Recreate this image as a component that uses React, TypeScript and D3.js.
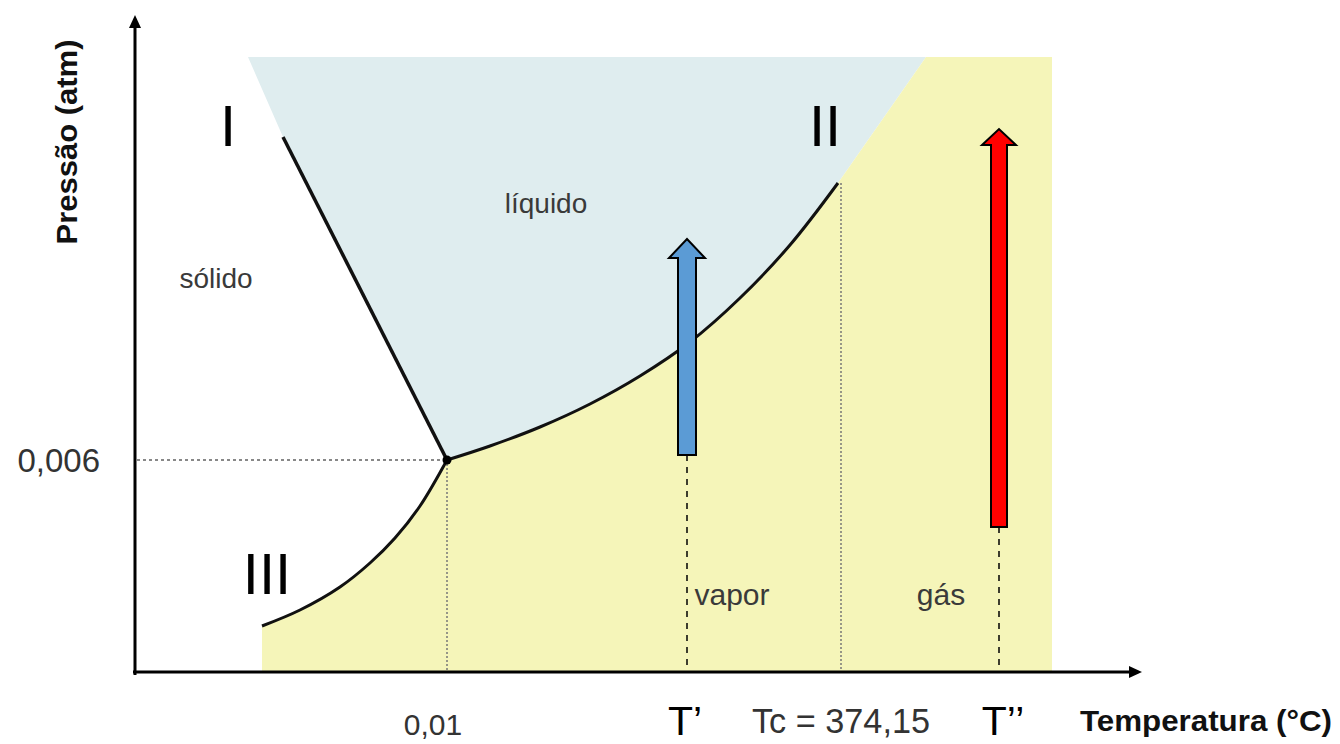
import React from "react";
import * as d3 from "d3";

const W = 1340;
const H = 744;

// Schematic data units (temperature-like on x, pressure-like on y)
const sublimationCurve: [number, number][] = [
  [127, 46], [165, 62], [205, 85], [235, 109], [260, 134], [285, 166], [312, 212],
];
const vaporizationCurve: [number, number][] = [
  [312, 212], [355, 226], [405, 245], [455, 268], [505, 296], [555, 330], [605, 374], [655, 427], [703, 489],
];
const fusionLine: [number, number][] = [[148, 535], [312, 212]];
const liquidTopEdge: [number, number][] = [[113, 615], [791, 615]];
const gasRegionX: [number, number] = [127, 917];
const gasRegionTop = 615;
const triplePoint: [number, number] = [312, 212];
const criticalPoint: [number, number] = [703, 489];
const tcLineX = 706;

const arrowsData = [
  { x: 552, y0: 217, y1: 433, fill: "#5b9bd5", hw: 9, HW: 18, hh: 19 },
  { x: 864, y0: 145, y1: 543, fill: "#ff0000", hw: 8, HW: 17, hh: 16 },
];

const phaseLabels = [
  { text: "líquido", x: 411, y: 459 },
  { text: "sólido", x: 81, y: 384 },
  { text: "vapor", x: 597, y: 67 },
  { text: "gás", x: 806, y: 67 },
];
const romanLabels = [
  { text: "I", x: 93, y: 526 },
  { text: "II", x: 690, y: 526 },
  { text: "III", x: 132, y: 78 },
];
const xTickLabels = [
  { text: "0,01", x: 312 },
  { text: "T’", x: 550 },
  { text: "Tc = 374,15", x: 706 },
  { text: "T’’", x: 868 },
];
const yTickLabels = [{ text: "0,006", y: 212 }];

const xScale = d3.scaleLinear().domain([0, 1000]).range([135, 1135]);
const yScale = d3.scaleLinear().domain([0, 660]).range([672, 12]);

const xTickStyle: Record<string, any> = {
  "0,01": { size: 30, base: 735, dx: -14 },
  "T’": { size: 41, base: 735, dx: 0 },
  "Tc = 374,15": { size: 35, base: 733, len: 178, dx: 0 },
  "T’’": { size: 41, base: 735, dx: 0 },
};

export default function App() {
  const x = xScale;
  const y = yScale;
  const line = d3
    .line<[number, number]>()
    .x((d) => x(d[0]))
    .y((d) => y(d[1]))
    .curve(d3.curveCatmullRom.alpha(0.5));
  const straight = d3
    .line<[number, number]>()
    .x((d) => x(d[0]))
    .y((d) => y(d[1]));

  const vapRev = [...vaporizationCurve].reverse();
  const liquidPath =
    `M${x(liquidTopEdge[0][0])},${y(liquidTopEdge[0][1])}` +
    `L${x(liquidTopEdge[1][0])},${y(liquidTopEdge[1][1])}` +
    `L${x(criticalPoint[0])},${y(criticalPoint[1])}` +
    (line(vapRev) || "").replace(/^M/, "L") +
    `L${x(fusionLine[0][0])},${y(fusionLine[0][1])}Z`;

  const gasPath =
    `M${x(liquidTopEdge[1][0])},${y(gasRegionTop)}` +
    `L${x(gasRegionX[1])},${y(gasRegionTop)}` +
    `L${x(gasRegionX[1])},${y(0)}` +
    `L${x(gasRegionX[0])},${y(0)}` +
    `L${x(sublimationCurve[0][0])},${y(sublimationCurve[0][1])}` +
    (line(sublimationCurve) || "").replace(/^M/, "L") +
    (line(vaporizationCurve) || "").replace(/^M/, "L") +
    "Z";

  const x0 = x(0);
  const y0 = y(0);
  const font = "'Liberation Sans', Arial, sans-serif";

  return (
    <svg
      width={W}
      height={H}
      style={{ position: "absolute", left: 0, top: 0, background: "#fff" }}
      fontFamily={font}
    >
      <path d={liquidPath} fill="#dfedef" />
      <path d={gasPath} fill="#f5f5b9" />

      {/* guide lines */}
      <line x1={x0 + 2} x2={x(triplePoint[0])} y1={y(triplePoint[1])} y2={y(triplePoint[1])} stroke="#888" strokeWidth={2} strokeDasharray="3,3" />
      <line x1={x(triplePoint[0])} x2={x(triplePoint[0])} y1={y(triplePoint[1])} y2={y0} stroke="#777" strokeWidth={1.5} strokeDasharray="2,2" />
      <line x1={x(tcLineX)} x2={x(tcLineX)} y1={y(criticalPoint[1])} y2={y0} stroke="#777" strokeWidth={1.5} strokeDasharray="2,2" />
      {arrowsData.map((a, i) => (
        <line key={i} x1={x(a.x)} x2={x(a.x)} y1={y(a.y0)} y2={y0} stroke="#000" strokeWidth={1.5} strokeDasharray="6,6" />
      ))}

      {/* phase curves */}
      <path d={line(sublimationCurve) || ""} fill="none" stroke="#111" strokeWidth={3} />
      <path d={line(vaporizationCurve) || ""} fill="none" stroke="#111" strokeWidth={3} />
      <path d={straight(fusionLine) || ""} fill="none" stroke="#111" strokeWidth={3.5} />
      <circle cx={x(triplePoint[0])} cy={y(triplePoint[1])} r={4.5} fill="#000" />

      {/* arrows */}
      {arrowsData.map((a, i) => {
        const ax = x(a.x);
        const yb = y(a.y0);
        const yt = y(a.y1);
        const d = `M${ax - a.hw},${yb}L${ax - a.hw},${yt + a.hh}L${ax - a.HW},${yt + a.hh}L${ax},${yt}L${ax + a.HW},${yt + a.hh}L${ax + a.hw},${yt + a.hh}L${ax + a.hw},${yb}Z`;
        return <path key={i} d={d} fill={a.fill} stroke="#000" strokeWidth={2} strokeLinejoin="miter" />;
      })}

      {/* axes */}
      <line x1={x0} x2={x0} y1={y0 + 3} y2={y(650)} stroke="#000" strokeWidth={3} />
      <path d={`M${x0},${y(657)}L${x0 - 6},${y(657) + 13}L${x0 + 6},${y(657) + 13}Z`} fill="#000" />
      <line x1={x0 - 2} x2={x(995)} y1={y0} y2={y0} stroke="#000" strokeWidth={3} />
      <path d={`M${x(1007)},${y0}L${x(1007) - 13},${y0 - 6}L${x(1007) - 13},${y0 + 6}Z`} fill="#000" />

      {/* phase labels */}
      {phaseLabels.map((l, i) => (
        <text key={i} x={x(l.x)} y={y(l.y)} textAnchor="middle" fontSize={l.y < 100 ? 30 : 28} fill="#3a3a3a">
          {l.text}
        </text>
      ))}
      {romanLabels.map((l, i) => (
        <text key={i} x={x(l.x)} y={y(l.y)} textAnchor="middle" fontSize={58} fill="#000">
          {l.text}
        </text>
      ))}

      {/* ticks */}
      {yTickLabels.map((t, i) => (
        <text key={i} x={100} y={y(t.y) + 12} textAnchor="end" fontSize={33} fill="#333">
          {t.text}
        </text>
      ))}
      {xTickLabels.map((t, i) => {
        const s = xTickStyle[t.text];
        return (
          <text
            key={i}
            x={x(t.x) + s.dx}
            y={s.base}
            textAnchor="middle"
            fontSize={s.size}
            fill={t.text.startsWith("T’") ? "#000" : "#333"}
            {...(s.len ? { textLength: s.len, lengthAdjust: "spacingAndGlyphs" } : {})}
          >
            {t.text}
          </text>
        );
      })}

      {/* axis titles */}
      <text x={1080} y={731} fontSize={30} fontWeight="bold" fill="#111" textLength={252} lengthAdjust="spacingAndGlyphs">
        Temperatura (°C)
      </text>
      <text
        transform={`translate(77,142) rotate(-90)`}
        textAnchor="middle"
        fontSize={30}
        fontWeight="bold"
        fill="#111"
        textLength={205}
        lengthAdjust="spacingAndGlyphs"
      >
        Pressão (atm)
      </text>
    </svg>
  );
}
